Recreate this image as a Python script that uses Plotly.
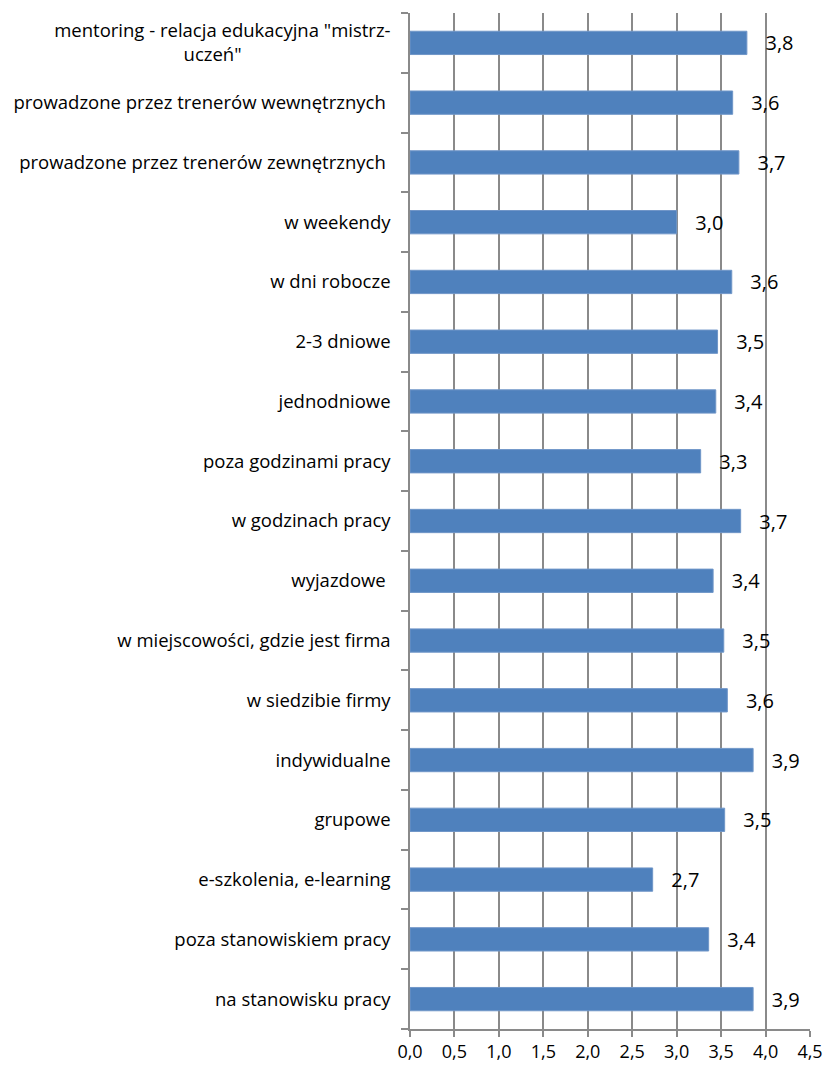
import plotly.graph_objects as go

categories = [
    'mentoring - relacja edukacyjna "mistrz-uczeń"',
    "prowadzone przez trenerów wewnętrznych ",
    "prowadzone przez trenerów zewnętrznych ",
    "w weekendy",
    "w dni robocze",
    "2-3 dniowe",
    "jednodniowe",
    "poza godzinami pracy",
    "w godzinach pracy",
    "wyjazdowe ",
    "w miejscowości, gdzie jest firma",
    "w siedzibie firmy",
    "indywidualne",
    "grupowe",
    "e-szkolenia, e-learning",
    "poza stanowiskiem pracy",
    "na stanowisku pracy",
]
values = [3.79, 3.63, 3.70, 3.00, 3.62, 3.46, 3.44, 3.27, 3.72, 3.41,
          3.53, 3.57, 3.86, 3.54, 2.73, 3.36, 3.86]
x_ticks = [0, 0.5, 1, 1.5, 2, 2.5, 3, 3.5, 4, 4.5]

FONT = "Open Sans"
GRID = "#8a8a8a"

# display text for the y tick labels (wrap the long first label, centred second line)
ticktext = []
for c in categories:
    if c.startswith("mentoring"):
        ticktext.append('mentoring - relacja edukacyjna "mistrz-<br>uczeń"' + "\u00a0" * 31)
    else:
        ticktext.append(c)

fig = go.Figure(
    go.Bar(
        x=values,
        y=categories,
        orientation="h",
        marker=dict(color="#4F81BD", line=dict(color="#7096C8", width=1)),
        texttemplate="\u00a0\u00a0\u00a0%{x:.1f}",
        textposition="outside",
        constraintext="none",
        textfont=dict(family=FONT, size=20, color="#000000"),
        cliponaxis=False,
        width=0.39,
    )
)

fig.update_layout(
    width=824,
    height=1066,
    margin=dict(l=410, r=14, t=13, b=37, autoexpand=False),
    paper_bgcolor="white",
    plot_bgcolor="white",
    separators=", ",
    showlegend=False,
    font=dict(family=FONT, size=18.5, color="#000000"),
)

fig.update_xaxes(
    range=[0, 4.5],
    tickvals=x_ticks,
    tickformat=".1f",
    showgrid=True,
    gridcolor=GRID,
    gridwidth=1.5,
    showline=True,
    linecolor=GRID,
    linewidth=1.5,
    ticks="outside",
    ticklen=6,
    tickcolor=GRID,
    tickwidth=1.5,
    tickfont=dict(family=FONT, size=18),
    zeroline=False,
    automargin=False,
)

fig.update_yaxes(
    autorange="reversed",
    tickmode="array",
    tickvals=categories,
    ticktext=ticktext,
    tickson="boundaries",
    ticks="outside",
    ticklen=7,
    tickcolor=GRID,
    tickwidth=1.5,
    showline=True,
    linecolor=GRID,
    linewidth=1.5,
    showgrid=False,
    ticklabelstandoff=14,
    tickfont=dict(family=FONT, size=18.5),
    automargin=False,
)

fig.write_html(
    "out.html",
    config={"displayModeBar": False},
    post_script="document.body.style.margin='0';",
)
